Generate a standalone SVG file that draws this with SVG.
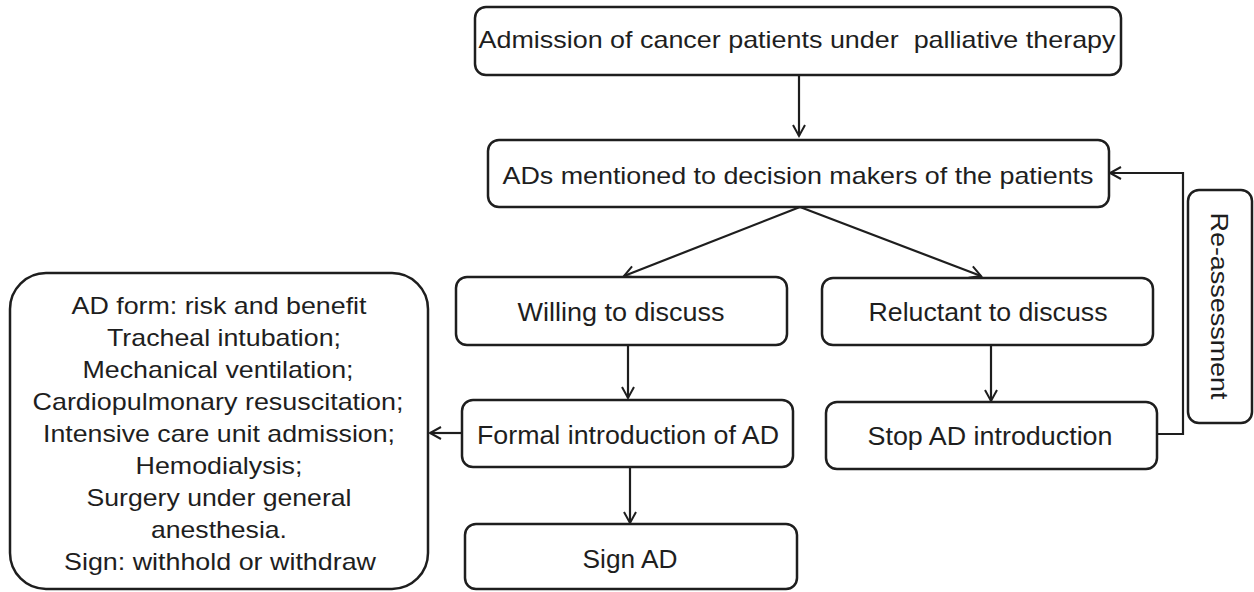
<svg xmlns="http://www.w3.org/2000/svg" width="1254" height="592" viewBox="0 0 1254 592">
<style>
.box{fill:#fff;stroke:#1e1e1e;stroke-width:2.5}
.t{font-family:"Liberation Sans",Arial,sans-serif;font-size:24px;fill:#1e1e1e;text-anchor:middle}
.n{font-size:26px}
.c{fill:none;stroke:#1e1e1e;stroke-width:2.2}
</style>
<defs>
<marker id="ah" markerUnits="userSpaceOnUse" markerWidth="16" markerHeight="16" refX="13" refY="8" orient="auto">
<path d="M2,2 L13,8 L2,14" fill="none" stroke="#1e1e1e" stroke-width="2"/>
</marker>
</defs>
<rect width="1254" height="592" fill="#fff"/>
<g id="connectors">
<line class="c" x1="799" y1="75" x2="799" y2="136" marker-end="url(#ah)"/>
<line class="c" x1="800" y1="207" x2="624" y2="276" marker-end="url(#ah)"/>
<line class="c" x1="800" y1="207" x2="981" y2="276" marker-end="url(#ah)"/>
<line class="c" x1="628" y1="345" x2="628" y2="398" marker-end="url(#ah)"/>
<line class="c" x1="991" y1="345" x2="991" y2="401" marker-end="url(#ah)"/>
<line class="c" x1="630" y1="467" x2="630" y2="523" marker-end="url(#ah)"/>
<line class="c" x1="462" y1="433" x2="430" y2="433" marker-end="url(#ah)"/>
<polyline class="c" points="1157,434 1183,434 1183,173 1110,173" marker-end="url(#ah)"/>
</g>
<g id="n1">
<rect class="box" x="475" y="7" width="646" height="68" rx="11"/>
<text class="t" x="797" y="48" font-size="24" style="white-space:pre" xml:space="preserve" textLength="637" lengthAdjust="spacingAndGlyphs">Admission of cancer patients under  palliative therapy</text>
</g>
<g id="n2">
<rect class="box" x="488" y="140" width="621" height="67" rx="11"/>
<text class="t" x="798" y="184" textLength="591" lengthAdjust="spacingAndGlyphs">ADs mentioned to decision makers of the patients</text>
</g>
<g id="n3">
<rect class="box" x="456" y="277" width="331" height="68" rx="11"/>
<text class="t n" x="621" y="321" textLength="207" lengthAdjust="spacingAndGlyphs">Willing to discuss</text>
</g>
<g id="n4">
<rect class="box" x="822" y="278" width="331" height="67" rx="11"/>
<text class="t n" x="988" y="321" textLength="239" lengthAdjust="spacingAndGlyphs">Reluctant to discuss</text>
</g>
<g id="n5">
<rect class="box" x="462" y="400" width="331" height="67" rx="11"/>
<text class="t n" x="628" y="444" textLength="302" lengthAdjust="spacingAndGlyphs">Formal introduction of AD</text>
</g>
<g id="n6">
<rect class="box" x="826" y="402" width="331" height="67" rx="11"/>
<text class="t n" x="990" y="445" textLength="245" lengthAdjust="spacingAndGlyphs">Stop AD introduction</text>
</g>
<g id="n7">
<rect class="box" x="465" y="524" width="332" height="65" rx="11"/>
<text class="t n" x="630" y="568" textLength="95" lengthAdjust="spacingAndGlyphs">Sign AD</text>
</g>
<g id="n8">
<rect class="box" x="10" y="273" width="418" height="316" rx="36"/>
<text class="t" x="219" y="314" textLength="295" lengthAdjust="spacingAndGlyphs">AD form: risk and benefit</text>
<text class="t" x="224" y="346" textLength="234" lengthAdjust="spacingAndGlyphs">Tracheal intubation;</text>
<text class="t" x="218" y="378" textLength="271" lengthAdjust="spacingAndGlyphs">Mechanical ventilation;</text>
<text class="t" x="218" y="410" textLength="371" lengthAdjust="spacingAndGlyphs">Cardiopulmonary resuscitation;</text>
<text class="t" x="219" y="442" textLength="352" lengthAdjust="spacingAndGlyphs">Intensive care unit admission;</text>
<text class="t" x="219" y="474" textLength="167" lengthAdjust="spacingAndGlyphs">Hemodialysis;</text>
<text class="t" x="219" y="506" textLength="265" lengthAdjust="spacingAndGlyphs">Surgery under general</text>
<text class="t" x="219" y="538" textLength="136" lengthAdjust="spacingAndGlyphs">anesthesia.</text>
<text class="t" x="220" y="570" textLength="312" lengthAdjust="spacingAndGlyphs">Sign: withhold or withdraw</text>
</g>
<g id="n9">
<rect class="box" x="1188" y="190" width="64" height="233" rx="11"/>
<text class="t" font-size="25" transform="translate(1211,306) rotate(90)" x="0" y="0" textLength="187" lengthAdjust="spacingAndGlyphs">Re-assessment</text>
</g>
</svg>
